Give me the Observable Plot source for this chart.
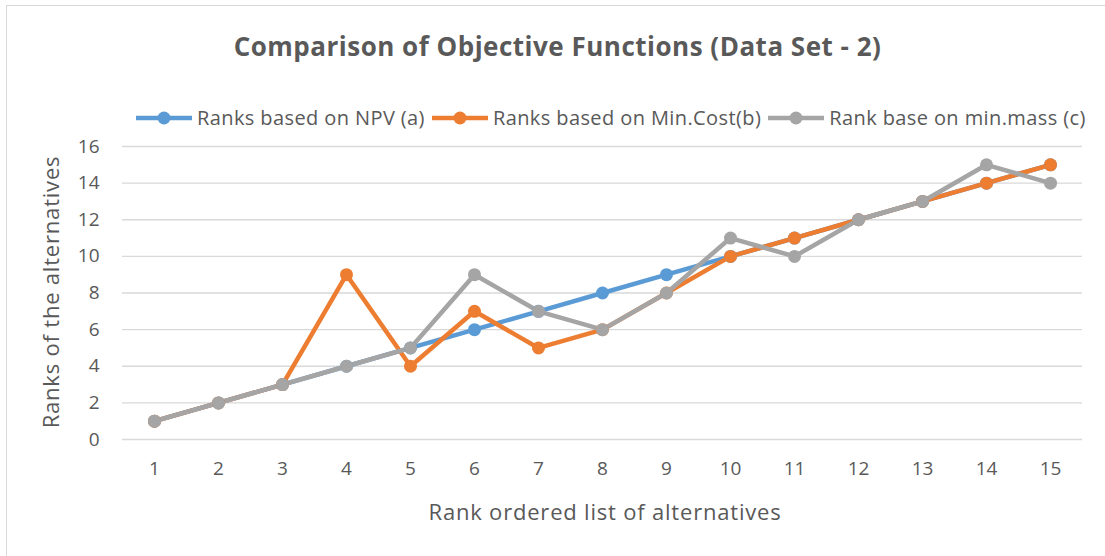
<!DOCTYPE html>
<html>
<head>
<meta charset="utf-8">
<script src="https://cdn.jsdelivr.net/npm/d3@7"></script>
<script src="https://cdn.jsdelivr.net/npm/@observablehq/plot@0.6"></script>
<style>
  html, body { margin: 0; padding: 0; background: #fff; }
  #wrap { position: relative; width: 1105px; height: 556px; overflow: hidden; font-family: "Open Sans", Lato, sans-serif; color: #595959; }
  #frame { position: absolute; left: 6px; top: 5px; width: 1120px; height: 580px; border: 1.5px solid #d9d9d9; box-sizing: border-box; }
  #title { position: absolute; left: 0; width: 1115px; top: 28px; text-align: center; font-size: 26px; font-weight: bold; letter-spacing: 0.5px; }
  #legend { position: absolute; top: 104px; left: 134px; display: flex; align-items: center; font-size: 20px; letter-spacing: 0.4px; white-space: nowrap; }
  .item { display: flex; align-items: center; margin-right: 5px; }
  .sw { width: 60px; height: 16px; margin-right: 3px; }
  #chart { position: absolute; left: 0; top: 125px; }
</style>
</head>
<body>
<div id="wrap">
  <div id="frame"></div>
  <div id="title">Comparison of Objective Functions (Data Set - 2)</div>
  <div id="legend"></div>
  <div id="chart"></div>
</div>
<script>
const alternatives = [1,2,3,4,5,6,7,8,9,10,11,12,13,14,15];
const ranksNPV     = [1,2,3,4,5,6,7,8,9,10,11,12,13,14,15];
const ranksMinCost = [1,2,3,9,4,7,5,6,8,10,11,12,13,14,15];
const ranksMinMass = [1,2,3,4,5,9,7,6,8,11,10,12,13,15,14];
const seriesNames  = ["Ranks based on NPV (a)", "Ranks based on Min.Cost(b)", "Rank base on min.mass (c)"];
const seriesColors = ["#5B9BD5", "#ED7D31", "#A5A5A5"];
const yTicks = [0,2,4,6,8,10,12,14,16];

const seriesValues = [ranksNPV, ranksMinCost, ranksMinMass];
const data = seriesValues.flatMap((vals, s) => vals.map((v, i) => ({series: seriesNames[s], x: alternatives[i], y: v})));

const W = 1105, H = 431;
const plot = Plot.plot({
  width: W, height: H,
  marginLeft: 122, marginRight: 23, marginTop: 21, marginBottom: 117,
  style: {fontFamily: "'Open Sans', Lato, sans-serif", fontSize: "19px", color: "#595959", background: "transparent"},
  x: {type: "point", domain: alternatives, padding: 0.5, label: null},
  y: {domain: [0, 16], ticks: yTicks, label: null},
  color: {domain: seriesNames, range: seriesColors},
  marks: [
    Plot.ruleY(yTicks, {stroke: "#d9d9d9", strokeWidth: 1.3}),
    Plot.axisY({ticks: yTicks, tickSize: 0, tickPadding: 23, fill: "#595959", fontSize: 19, label: null}),
    Plot.axisX({tickSize: 0, tickPadding: 22, fill: "#595959", fontSize: 19, label: null}),
    ...seriesNames.map(name => Plot.line(data.filter(d => d.series === name), {x: "x", y: "y", stroke: "series", strokeWidth: 4.5, strokeLinejoin: "round", strokeLinecap: "round"})),
    ...seriesNames.map(name => Plot.dot(data.filter(d => d.series === name), {x: "x", y: "y", fill: "series", r: 6.5}))
  ]
});
document.getElementById("chart").appendChild(plot);

// Axis titles
const svg = d3.select(plot);
svg.append("text").attr("x", 605).attr("y", 395).attr("text-anchor", "middle")
  .attr("fill", "#595959").style("font-size", "22px").style("letter-spacing", "0.8px").text("Rank ordered list of alternatives");
svg.append("text").attr("transform", "translate(59,167) rotate(-90)").attr("text-anchor", "middle")
  .attr("fill", "#595959").style("font-size", "22px").style("letter-spacing", "0.8px").text("Ranks of the alternatives");

// Legend
const legend = d3.select("#legend");
seriesNames.forEach((name, i) => {
  const it = legend.append("div").attr("class", "item");
  const sw = it.append("svg").attr("class", "sw").attr("width", 60).attr("height", 16);
  sw.append("line").attr("x1", 2).attr("x2", 58).attr("y1", 8).attr("y2", 8).attr("stroke", seriesColors[i]).attr("stroke-width", 4.5);
  sw.append("circle").attr("cx", 30).attr("cy", 8).attr("r", 6.5).attr("fill", seriesColors[i]);
  it.append("span").text(name);
});
</script>
</body>
</html>
